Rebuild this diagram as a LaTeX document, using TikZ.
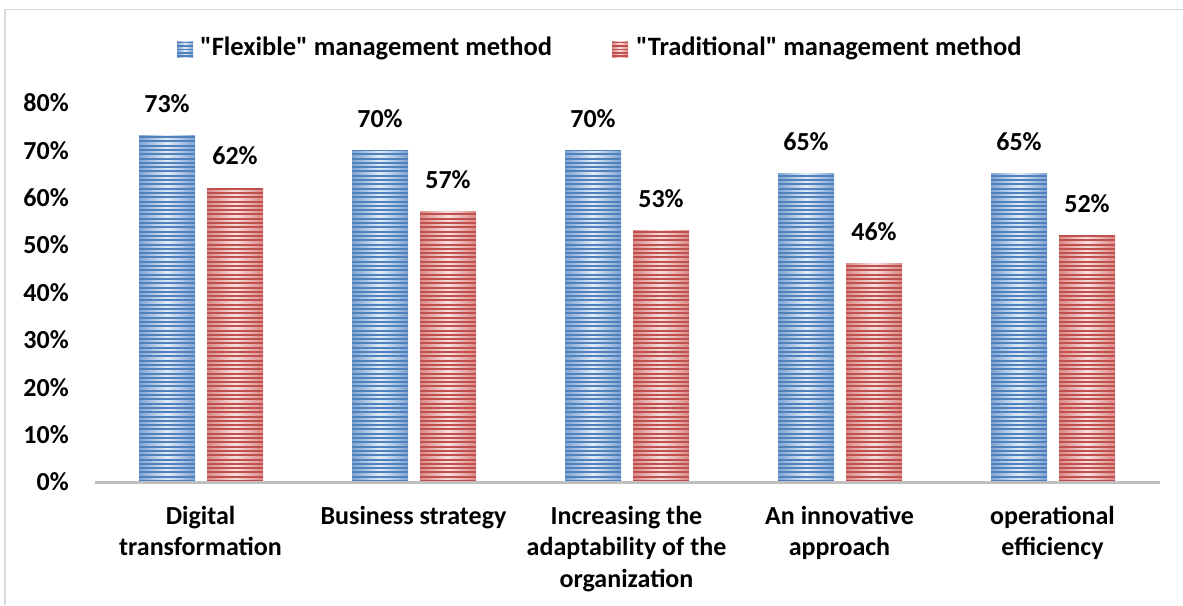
\documentclass[tikz,border=0pt]{standalone}
\usepackage{fontspec}
\setmainfont{Carlito}[Ligatures=TeXOff]
\definecolor{bdark}{HTML}{4F81BD}
\definecolor{bedge}{HTML}{7FA3D3}
\definecolor{blight}{HTML}{E3ECF7}
\definecolor{rdark}{HTML}{C0504D}
\definecolor{redge}{HTML}{D98987}
\definecolor{rlight}{HTML}{F7E0DF}
\definecolor{axisgray}{HTML}{BFBFBF}
\definecolor{framegray}{HTML}{D9D9D9}
\newcommand\mybar[4]{%
  \pgfmathsetmacro\mytopy{482-4.74*#2}
  \begin{scope}
    \clip (#1,482) rectangle (#1+56,\mytopy);
    \shade[left color=#3edge, right color=#3edge, middle color=#3light] (#1,482) rectangle (#1+56,\mytopy);
    \foreach \k in {0,...,82} {\fill[#3dark] (#1,482-\k*4.3) rectangle (#1+56,482-\k*4.3-2);}
  \end{scope}
  \node[txt] (#4) at (#1+28,\mytopy-32) {#2\%};
}
\begin{document}
\begin{tikzpicture}[x=1pt,y=-1pt,
  txt/.style={font=\bfseries\fontsize{26}{31.5}\selectfont, inner sep=0pt, text=black},
  cat/.style={txt, align=center, anchor=north}]
\useasboundingbox[fill=white] (0,0) rectangle (1183,605);
\draw[framegray, line width=1.2pt] (5,605) -- (5,9.5) -- (1183,9.5);
% bars
\mybar{139}{73}{b}{vb1}
\mybar{207}{62}{r}{vr1}
\mybar{352}{70}{b}{vb2}
\mybar{420}{57}{r}{vr2}
\mybar{565}{70}{b}{vb3}
\mybar{633}{53}{r}{vr3}
\mybar{778}{65}{b}{vb4}
\mybar{846}{46}{r}{vr4}
\mybar{991}{65}{b}{vb5}
\mybar{1059}{52}{r}{vr5}
% axis
\coordinate (ax0) at (95,482.5);
\coordinate (ax1) at (1160,482.5);
\draw[axisgray, line width=3pt] (ax0) -- (ax1);
% y labels
\foreach \v/\n in {0/t0,10/t1,20/t2,30/t3,40/t4,50/t5,60/t6,70/t7,80/t8}
  \node[txt, anchor=east] (\n) at (69,482-4.74*\v) {\v\%};
% categories
\node[cat] (c1) at (200.5,506) {Digital\\transformation};
\node[cat] (c2) at (413.5,506) {Business strategy};
\node[cat] (c3) at (626.5,506) {Increasing the\\adaptability of the\\organization};
\node[cat] (c4) at (839.5,506) {An innovative\\approach};
\node[cat] (c5) at (1052.5,506) {operational\\efficiency};
% legend
\begin{scope}
  \clip (177,41) rectangle (193,57);
  \shade[left color=bedge, right color=bedge, middle color=blight] (177,41) rectangle (193,57);
  \foreach \k in {0,...,4} {\fill[bdark] (177,57-\k*3.4) rectangle (193,57-\k*3.4-1.7);}
\end{scope}
\node[txt, anchor=west, font=\bfseries\fontsize{26.5}{31.5}\selectfont] (l1) at (200,48.5) {"Flexible" management method};
\begin{scope}
  \clip (612,41) rectangle (628,57);
  \shade[left color=redge, right color=redge, middle color=rlight] (612,41) rectangle (628,57);
  \foreach \k in {0,...,4} {\fill[rdark] (612,57-\k*3.4) rectangle (628,57-\k*3.4-1.7);}
\end{scope}
\node[txt, anchor=west, font=\bfseries\fontsize{26.5}{31.5}\selectfont] (l2) at (636,48.5) {"Traditional" management method};
\end{tikzpicture}
\end{document}
